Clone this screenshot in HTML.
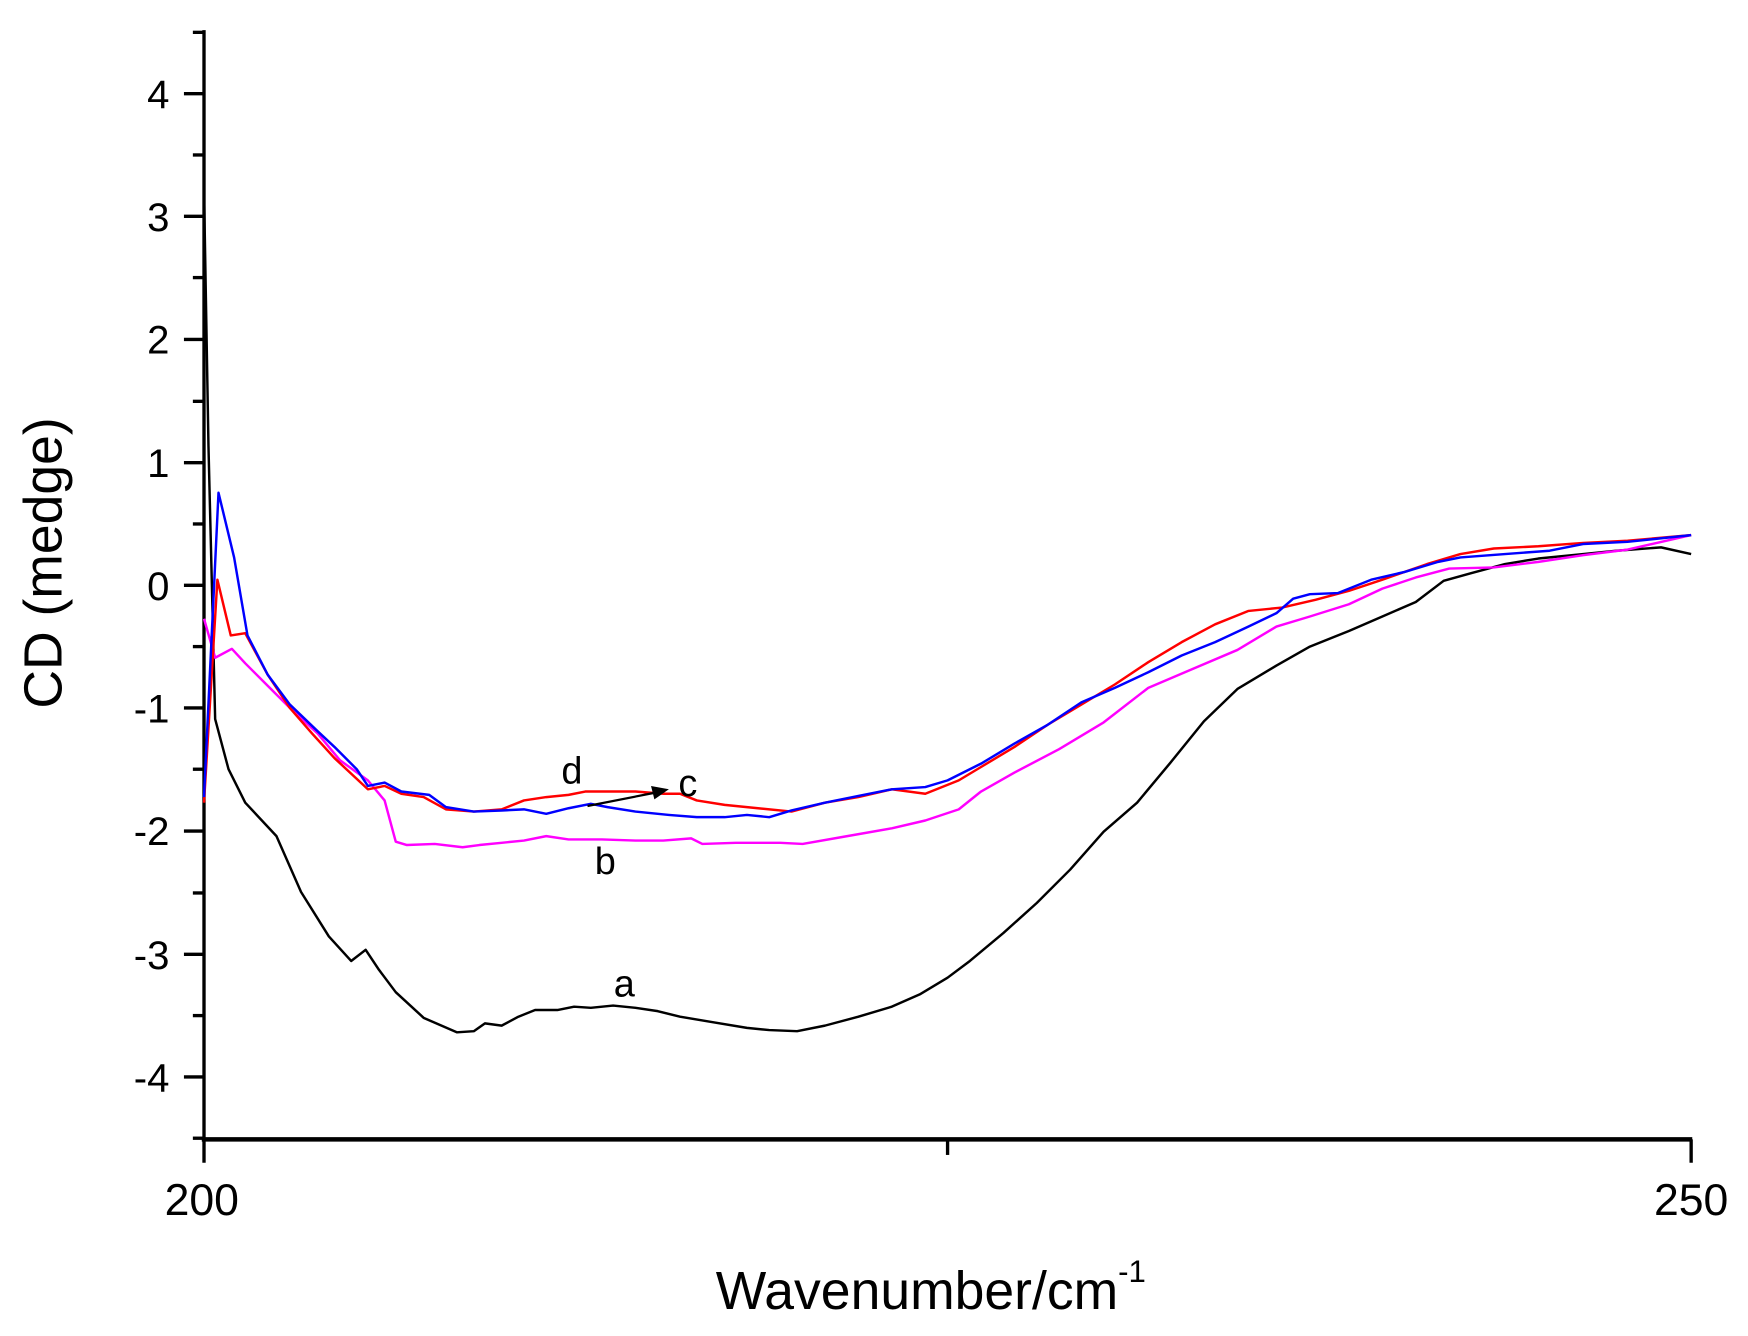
<!DOCTYPE html>
<html><head><style>html,body{margin:0;padding:0;background:#fff;}svg{display:block;}</style></head>
<body>
<svg width="1748" height="1336" viewBox="0 0 1568 1198.4" xmlns="http://www.w3.org/2000/svg" font-family="Liberation Sans, Arial, sans-serif">
<rect width="1568" height="1199" fill="#fff"/>
<g stroke="#000" stroke-width="3" fill="none">
<line x1="183" y1="27" x2="183" y2="1023"/>
<line x1="181" y1="1022" x2="1518" y2="1022" stroke-width="4"/>
<line x1="165" y1="84" x2="183" y2="84"/><line x1="165" y1="194" x2="183" y2="194"/>
<line x1="165" y1="304.5" x2="183" y2="304.5"/><line x1="165" y1="415" x2="183" y2="415"/>
<line x1="165" y1="525" x2="183" y2="525"/><line x1="165" y1="635" x2="183" y2="635"/>
<line x1="165" y1="745.5" x2="183" y2="745.5"/><line x1="165" y1="856" x2="183" y2="856"/>
<line x1="165" y1="966" x2="183" y2="966"/>
<line x1="173" y1="29" x2="183" y2="29"/><line x1="173" y1="139" x2="183" y2="139"/>
<line x1="173" y1="249" x2="183" y2="249"/><line x1="173" y1="360" x2="183" y2="360"/>
<line x1="173" y1="470" x2="183" y2="470"/><line x1="173" y1="580" x2="183" y2="580"/>
<line x1="173" y1="690" x2="183" y2="690"/><line x1="173" y1="801" x2="183" y2="801"/>
<line x1="173" y1="911" x2="183" y2="911"/><line x1="173" y1="1021" x2="183" y2="1021"/>
<line x1="183" y1="1022" x2="183" y2="1043"/><line x1="1517" y1="1022" x2="1517" y2="1043"/>
<line x1="850" y1="1022" x2="850" y2="1036"/>
</g>
<g font-size="36" text-anchor="end" fill="#000">
<text x="152" y="97">4</text><text x="152" y="207">3</text><text x="152" y="317">2</text>
<text x="152" y="428">1</text><text x="152" y="538">0</text><text x="152" y="648">-1</text>
<text x="152" y="758">-2</text><text x="152" y="869">-3</text><text x="152" y="979">-4</text>
</g>
<g font-size="40" text-anchor="middle" fill="#000">
<text x="181" y="1090">200</text><text x="1517" y="1090">250</text>
</g>
<text x="835" y="1174" font-size="48" text-anchor="middle">Wavenumber/cm<tspan font-size="28" dy="-24">-1</tspan></text>
<text transform="translate(55,505) rotate(-90)" font-size="48" text-anchor="middle">CD (medge)</text>
<g fill="none" stroke-width="2.2" stroke-linejoin="round">
<polyline stroke="#000" points="183,170 187,400 193,645 205,690 220,720 248,750 270,800 295,840 315,862 328,852 340,870 355,890 380,913 410,926 425,925 435,918 450,920 465,912 480,906 500,906 515,903 530,904 550,902 570,904 590,907 610,912 640,917 670,922 690,924 715,925 740,920 770,912 800,903 825,892 850,877 870,862 900,837 930,810 960,780 990,746 1020,720 1050,684 1080,647 1110,618 1145,597 1175,580 1210,566 1240,553 1270,540 1295,521 1320,514 1350,506 1380,501 1420,497 1450,494 1490,491 1517,497"/>
<polyline stroke="#ff00ff" points="183,555 193,590 208,582 220,595 240,615 260,635 285,658 305,682 330,700 345,718 355,755 365,758 390,757 415,760 430,758 450,756 470,754 490,750 510,753 540,753 570,754 595,754 620,752 630,757 660,756 700,756 720,757 760,750 800,743 830,736 860,726 880,710 910,693 950,672 990,648 1030,617 1070,600 1110,583 1145,562 1175,553 1210,542 1240,528 1270,518 1300,510 1340,509 1380,504 1420,498 1460,493 1517,480"/>
<polyline stroke="#ff0000" points="183,720 195,520 207,570 220,568 240,605 260,635 280,658 300,680 330,708 345,705 360,712 380,715 400,726 425,728 450,726 470,718 490,715 510,713 525,710 545,710 570,710 595,712 610,712 625,718 650,722 680,725 710,728 740,720 770,715 800,708 830,712 860,700 880,688 910,670 940,650 970,632 1000,614 1030,594 1060,576 1090,560 1120,548 1150,545 1180,538 1210,530 1240,520 1280,506 1310,497 1340,492 1380,490 1420,487 1460,485 1517,480"/>
<polyline stroke="#0000ff" points="183,715 196,442 210,500 222,570 240,605 260,632 285,656 300,670 320,690 330,705 345,702 360,710 385,713 400,724 425,728 450,727 470,726 490,730 510,725 530,721 545,724 570,728 600,731 625,733 650,733 670,731 690,733 710,727 740,720 770,714 800,708 830,706 850,700 880,685 910,667 940,650 970,630 1000,617 1030,603 1060,588 1090,576 1120,562 1145,550 1160,537 1175,533 1200,532 1230,520 1260,513 1290,504 1310,500 1350,497 1390,494 1420,488 1460,486 1517,480"/>
</g>
<line x1="527" y1="723" x2="588" y2="711" stroke="#000" stroke-width="2"/>
<polygon points="600,708 584,705 587,717" fill="#000"/>
<g font-size="34" text-anchor="middle" fill="#000">
<text x="513" y="703">d</text><text x="617" y="714">c</text><text x="543" y="784">b</text><text x="560" y="894">a</text>
</g>
</svg>
</body></html>
